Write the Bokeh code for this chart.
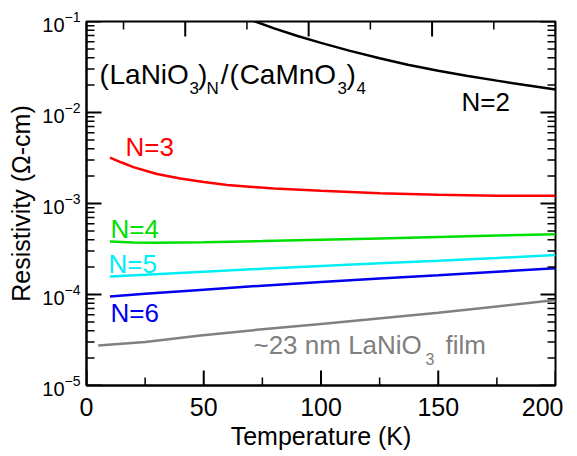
import math
from bokeh.plotting import figure
from bokeh.models import Range1d, FixedTicker, Label
from bokeh.embed import file_html
from bokeh.resources import INLINE

# ---------------- data ----------------
T_N2 = [70, 72, 80, 90, 100, 112, 125, 137, 150, 162, 175, 187, 200]
R_N2 = [0.105, 0.100, 0.0841, 0.0692, 0.0582, 0.0479, 0.0394, 0.0335, 0.0288, 0.0254, 0.0224, 0.0200, 0.0179]

T_N3 = [10, 15, 20, 30, 40, 50, 60, 80, 100, 125, 150, 175, 200]
R_N3 = [3.20e-3, 2.82e-3, 2.51e-3, 2.11e-3, 1.88e-3, 1.72e-3, 1.60e-3, 1.46e-3, 1.38e-3, 1.30e-3, 1.245e-3, 1.22e-3, 1.22e-3]

T_N4 = [10, 20, 30, 50, 75, 100, 125, 150, 175, 200]
R_N4 = [3.82e-4, 3.72e-4, 3.70e-4, 3.75e-4, 3.86e-4, 3.99e-4, 4.13e-4, 4.28e-4, 4.44e-4, 4.60e-4]

T_N5 = [10, 25, 50, 75, 100, 125, 150, 175, 200]
R_N5 = [1.58e-4, 1.65e-4, 1.78e-4, 1.92e-4, 2.06e-4, 2.20e-4, 2.35e-4, 2.52e-4, 2.72e-4]

T_N6 = [10, 25, 50, 75, 100, 125, 150, 175, 200]
R_N6 = [9.5e-5, 1.02e-4, 1.13e-4, 1.25e-4, 1.37e-4, 1.50e-4, 1.63e-4, 1.78e-4, 1.94e-4]

T_FILM = [5, 25, 48.6, 75, 100, 120, 150, 175, 200]
R_FILM = [2.75e-5, 3.0e-5, 3.55e-5, 4.15e-5, 4.75e-5, 5.3e-5, 6.3e-5, 7.4e-5, 8.7e-5]

X_MAJOR = [0, 50, 100, 150, 200]
X_MINOR = [25, 75, 125, 175]
TOP_MAJOR = [50, 100, 150, 200]
TOP_MINOR = [25, 75, 125, 175]
Y_MAJOR = [1e-5, 1e-4, 1e-3, 1e-2, 1e-1]
Y_MINOR = [m * 10.0 ** e for e in range(-5, -1) for m in range(2, 10)]

FONT = "Liberation Sans"
X_LO, X_HI = 0, 200
TOP_LO, TOP_HI = 10, 200
Y_LO, Y_HI = 1e-5, 1e-1
FW, FH = 469, 364
MAJ_LEN, MIN_LEN = 15, 8
MAJ_W, MIN_W = 2, 1.5

p = figure(frame_width=FW, frame_height=FH, x_range=(X_LO, X_HI), y_range=(Y_LO, Y_HI),
           y_axis_type="log", output_backend="svg", toolbar_location=None,
           min_border_left=86, min_border_right=8, min_border_top=21, min_border_bottom=0,
           background_fill_color="white", border_fill_color="white")
p.xgrid.visible = False
p.ygrid.visible = False
p.outline_line_color = "black"
p.outline_line_width = 2

p.extra_x_ranges = {"top": Range1d(TOP_LO, TOP_HI)}


def style_axis(ax):
    ax.axis_line_width = 2
    ax.axis_line_color = "black"
    ax.major_tick_in = 0
    ax.major_tick_out = 0
    ax.minor_tick_in = 0
    ax.minor_tick_out = 0
    ax.major_label_text_font = FONT
    ax.major_label_text_color = "black"
    ax.axis_label_text_font = FONT
    ax.axis_label_text_font_style = "normal"
    ax.axis_label_text_color = "black"


xa = p.xaxis[0]
style_axis(xa)
xa.ticker = FixedTicker(ticks=X_MAJOR, minor_ticks=X_MINOR)
xa.major_label_text_font_size = "25px"
xa.major_label_standoff = 12
xa.axis_label = "Temperature (K)"
xa.axis_label_text_font_size = "25px"
xa.axis_label_standoff = 3

ya = p.yaxis[0]
style_axis(ya)
ya.ticker = FixedTicker(ticks=Y_MAJOR, minor_ticks=Y_MINOR)
ya.major_label_text_font_size = "20px"
ya.major_label_standoff = 6
ya.axis_label = "Resistivity (\u03a9-cm)"
ya.axis_label_text_font_size = "25px"
ya.axis_label_standoff = 4

LW = 2.5
p.line(T_N2, R_N2, line_color="black", line_width=LW)
p.line(T_N3, R_N3, line_color="#ff0000", line_width=LW)
p.line(T_N4, R_N4, line_color="#00e000", line_width=LW)
p.line(T_N5, R_N5, line_color="#00eef5", line_width=LW)
p.line(T_N6, R_N6, line_color="#0000ee", line_width=LW)
p.line(T_FILM, R_FILM, line_color="#808080", line_width=LW)


# ---- inward ticks on all four sides, one short line per tick value ----
def xlen(px, lo=X_LO, hi=X_HI):
    return px * (hi - lo) / FW


def yfac(px):
    return 10 ** (px * math.log10(Y_HI / Y_LO) / FH)


for ticks, L, w in ((X_MAJOR, MAJ_LEN, MAJ_W), (X_MINOR, MIN_LEN, MIN_W)):
    for t in ticks:
        p.line([t, t], [Y_LO, Y_LO * yfac(L)], line_color="black", line_width=w)
for ticks, L, w in ((TOP_MAJOR, MAJ_LEN, MAJ_W), (TOP_MINOR, MIN_LEN, MIN_W)):
    for t in ticks:
        p.line([t, t], [Y_HI, Y_HI / yfac(L)], line_color="black", line_width=w,
               x_range_name="top")
for ticks, L, w in ((Y_MAJOR, MAJ_LEN, MAJ_W), (Y_MINOR, MIN_LEN, MIN_W)):
    for t in ticks:
        p.line([X_LO, X_LO + xlen(L)], [t, t], line_color="black", line_width=w)
        p.line([X_HI, X_HI - xlen(L)], [t, t], line_color="black", line_width=w)

UP = 10 ** (7 / 91)  # baseline correction for Label text


def lab(text, x, y, size, color="black", align="left"):
    p.add_layout(Label(x=x, y=y * UP, text=text, text_font=FONT, text_font_size=size,
                       text_color=color, text_baseline="alphabetic", text_align=align))


# title formula (LaNiO3)N/(CaMnO3)4
BIG, SUB = "28px", "17px"
yb, ys = 0.02193, 0.01538
lab("(", 5.5, yb, BIG)
lab("LaNiO", 9.8, yb, BIG)
lab("3", 43.9, ys, SUB)
lab(")", 47.5, yb, BIG)
lab("N", 51.2, ys, SUB)
lab("/", 57.2, yb, BIG)
lab("(", 61.0, yb, BIG)
lab("CaMnO", 65.3, yb, BIG)
lab("3", 107.0, ys, SUB)
lab(")", 110.9, yb, BIG)
lab("4", 115.1, ys, SUB)

lab("N=2", 159.9, 0.01106, "26px", "black")
lab("N=3", 16.6, 3.54e-3, "26px", "#ff0000")
lab("N=4", 10.2, 4.34e-4, "26px", "#00e000")
lab("N=5", 9.4, 1.79e-4, "26px", "#00eef5")
lab("N=6", 10.2, 5.31e-5, "26px", "#0000ee")
lab("~23 nm LaNiO", 71.2, 2.31e-5, "26px", "#808080")
lab("3", 144.6, 1.62e-5, "16px", "#808080")
lab("film", 153.1, 2.31e-5, "26px", "#808080")

open("out.html", "w").write(file_html(p, INLINE))
